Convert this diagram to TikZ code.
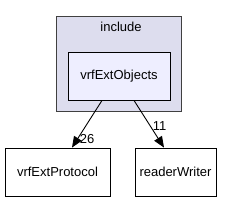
\documentclass[tikz,border=0pt]{standalone}
\usepackage{fontspec}
\setmainfont{Liberation Sans}
\usetikzlibrary{arrows.meta,positioning}

\tikzset{
  dirbox/.style={draw, line width=0.9pt, minimum height=48pt, inner sep=0pt, font=\fontsize{13}{15}\selectfont},
  deparrow/.style={-{Triangle[length=11pt,width=9pt]}, line width=0.9pt},
  deplabel/.style={font=\fontsize{13}{15}\selectfont, inner sep=1pt}
}

\begin{document}
\begin{tikzpicture}[x=1pt, y=-1pt]
    \useasboundingbox (0,0) rectangle (233,201);
    % cluster
    \draw [fill={rgb,255:red,221;green,221;blue,238}, draw={rgb,255:red,64;green,64;blue,64}, line width=0.9pt]
      (56,16) rectangle (181,111);
    \node [font=\fontsize{13}{15}\selectfont] (incl) at (121,27) {include};
    \node [dirbox, fill={rgb,255:red,238;green,238;blue,255}, minimum width=102pt] (objs) at (119,76) {vrfExtObjects};
    \node [dirbox, fill=white, minimum width=105pt] (proto) at (57.5,172) {vrfExtProtocol};
    \node [dirbox, fill=white, minimum width=81pt] (rw) at (175.5,172) {readerWriter};
    % dependencies
    \draw [deparrow] (objs.south -| 102,0) -- (proto.north -| 72,0) node [deplabel, pos=0.82, right=1pt] {26};
    \draw [deparrow] (objs.south -| 134,0) -- (rw.north -| 164,0) node [deplabel, pos=0.55, right=1pt] {11};
\end{tikzpicture}
\end{document}
